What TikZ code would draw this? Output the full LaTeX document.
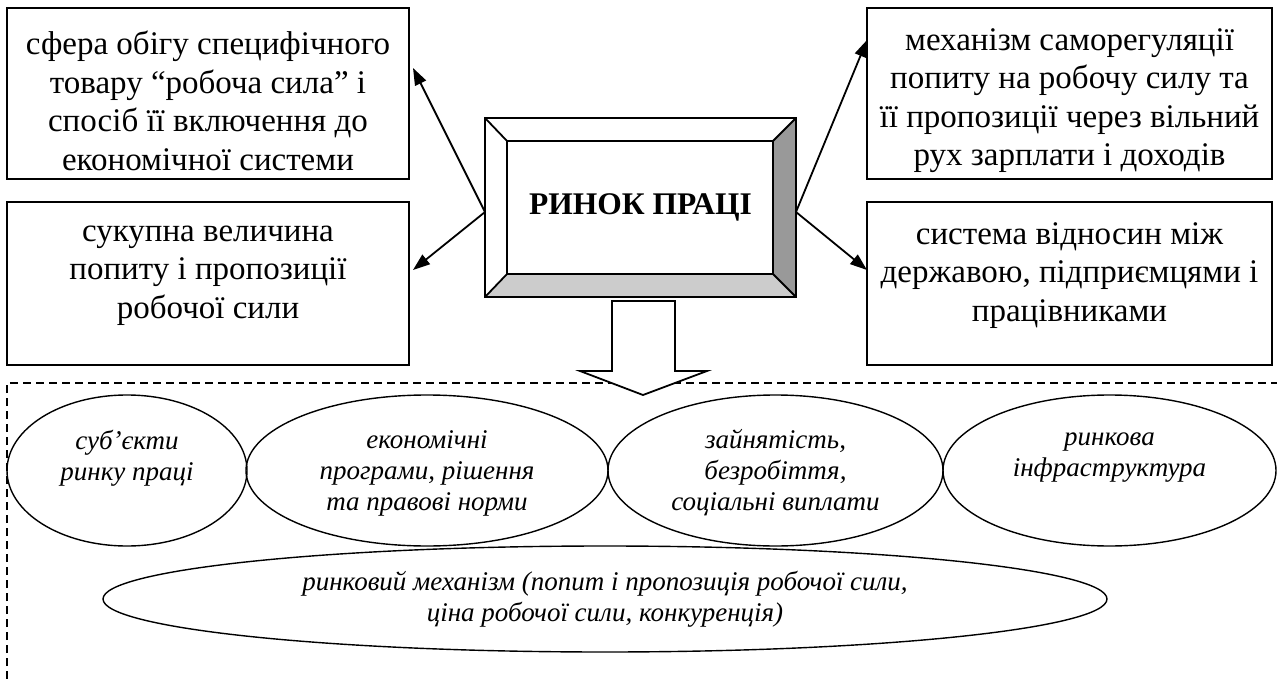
\documentclass[tikz,border=0pt]{standalone}
\usepackage{fontspec}
\setmainfont{Liberation Serif}
\usetikzlibrary{shapes.geometric,arrows.meta}
\definecolor{bevdark}{HTML}{999999}
\definecolor{bevlight}{HTML}{CCCCCC}
\begin{document}
\begin{tikzpicture}[x=1pt,y=-1pt,
  box/.style={draw, line width=1.8pt, inner sep=0pt, outer sep=0pt, anchor=north west, minimum width=#1},
  boxtext/.style={align=center, inner sep=0pt, font=\fontsize{33}{38.5}\selectfont},
  oval/.style={draw, ellipse, line width=1.4pt, inner sep=0pt, outer sep=0pt},
  ovaltext/.style={align=center, inner sep=0pt, font=\fontsize{27}{31}\selectfont\itshape},
  arr/.style={line width=1.8pt, -{Triangle[length=17pt,width=12pt]}},
  bev/.style={line width=1.8pt, line join=miter}]
\useasboundingbox (0,0) rectangle (1277,679);

% dashed frame (open at right and bottom)
\draw[line width=1.5pt, dash pattern=on 8pt off 5pt] (7,679) -- (7,383) -- (1277,383);

% outer boxes
\node[box=402pt, minimum height=171pt] (b1) at (7,8) {};
\node[box=402pt, minimum height=163pt] (b2) at (7,202) {};
\node[box=405pt, minimum height=171pt] (b3) at (867,8) {};
\node[box=405pt, minimum height=163pt] (b4) at (867,202) {};

\node[boxtext] (tb1) at (208,100.75) {сфера обігу специфічного\\товару “робоча сила” і\\спосіб її включення до\\економічної системи};
\node[boxtext] (tb2) at (208,275.5) {сукупна величина\\попиту і пропозиції\\робочої сили};
\node[boxtext] (tb3) at (1069.5,100.75) {механізм саморегуляції\\попиту на робочу силу та\\її пропозиції через вільний\\рух зарплати і доходів};
\node[boxtext] (tb4) at (1069.5,275.5) {система відносин між\\державою, підприємцями і\\працівниками};

% central bevelled box
\fill[bevdark] (796,118) -- (796,297) -- (773,274) -- (773,141) -- cycle;
\fill[bevlight] (485,297) -- (796,297) -- (773,274) -- (507,274) -- cycle;
\draw[bev] (485,118) -- (507,141) (796,118) -- (773,141) (485,297) -- (507,274) (796,297) -- (773,274);
\draw[bev] (507,141) rectangle (773,274);
\node[draw, bev, inner sep=0pt, outer sep=0pt, minimum width=311pt, minimum height=179pt,
      font=\fontsize{31.5}{36}\selectfont\bfseries] (c) at (640.5,207.5) {РИНОК ПРАЦІ};

% arrow tips
\coordinate (p1) at (413,68);
\coordinate (p2) at (413,270);
\coordinate (p3) at (867,40);
\coordinate (p4) at (867,270);
\draw[arr] ([yshift=-4.5pt]c.west) -- (p1);
\draw[arr] ([yshift=-4.5pt]c.west) -- (p2);
\draw[arr] ([yshift=-4.5pt]c.east) -- (p3);
\draw[arr] ([yshift=-4.5pt]c.east) -- (p4);

% block arrow down
\draw[line width=1.8pt, fill=white, line join=miter]
  (612,301) -- (675,301) -- (675,371) -- (707,371) -- (643,395) -- (580,371) -- (612,371) -- cycle;

% ellipses
\node[oval, minimum width=240pt, minimum height=151pt] (e1) at (127,470.5) {};
\node[oval, minimum width=362pt, minimum height=151pt] (e2) at (427,470.5) {};
\node[oval, minimum width=335pt, minimum height=151pt] (e3) at (775.5,470.5) {};
\node[oval, minimum width=333pt, minimum height=151pt] (e4) at (1109.5,470.5) {};
\node[ovaltext] (te1) at ([yshift=12.5pt]e1.center) {суб’єкти\\ринку праці};
\node[ovaltext] (te2) at ([yshift=-2.5pt]e2.center) {економічні\\програми, рішення\\та правові норми};
\node[ovaltext] (te3) at ([yshift=-2.5pt]e3.center) {зайнятість,\\безробіття,\\соціальні виплати};
\node[ovaltext] (te4) at ([yshift=12.5pt]e4.center) {ринкова\\інфраструктура};
\node[oval, minimum width=1004pt, minimum height=106pt, align=center,
      font=\fontsize{27}{31}\selectfont\itshape] (e5) at (605,599)
  {ринковий механізм (попит і пропозиція робочої сили,\\ціна робочої сили, конкуренція)};
\end{tikzpicture}
\end{document}
